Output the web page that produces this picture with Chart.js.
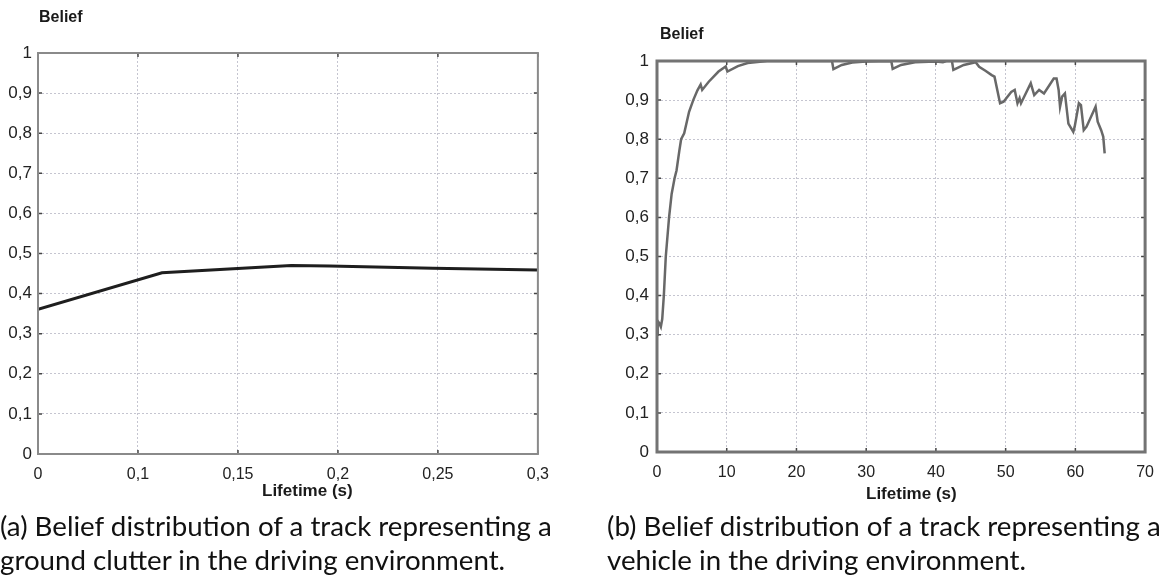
<!DOCTYPE html>
<html>
<head>
<meta charset="utf-8">
<script src="https://cdn.jsdelivr.net/npm/chart.js@4.4.1/dist/chart.umd.min.js"></script>
<style>
  html, body { margin: 0; padding: 0; background: #fff; width: 1165px; height: 584px; overflow: hidden; }
  body { position: relative; }
  canvas { position: absolute; top: 0; }
  #chartA { left: 0; }
  #chartB { left: 600px; }
  .axisTitle { position: absolute; font: bold 16px "Liberation Sans", Arial, sans-serif; color: #1a1a1a; white-space: nowrap; line-height: 18px; }
  .xTitle { font-size: 17px; }
  .cap { position: absolute; top: 509px; font: 27.7px Lato, sans-serif; line-height: 34px; color: #111; white-space: nowrap; }
</style>
</head>
<body>
<canvas id="chartA" width="560" height="510"></canvas>
<canvas id="chartB" width="565" height="510"></canvas>

<div class="axisTitle" style="left:39px; top:8px;">Belief</div>
<div class="axisTitle" style="left:660px; top:25px;">Belief</div>
<div class="axisTitle xTitle" style="left:262px; top:482px;">Lifetime (s)</div>
<div class="axisTitle xTitle" style="left:866px; top:485px;">Lifetime (s)</div>

<div class="cap" style="left:0;">(a) Belief distribution of a track representing a<br>ground clutter in the driving environment.</div>
<div class="cap" style="left:607px;">(b) Belief distribution of a track representing a<br>vehicle in the driving environment.</div>

<script>
// (a) ground clutter track: lifetime (s) and belief
const timeA   = [0, 0.0744, 0.152, 0.175, 0.237, 0.3];
const beliefA = [0.361, 0.452, 0.470, 0.469, 0.463, 0.459];
const xTickLabelsA = ['0', '0,1', '0,15', '0,2', '0,25', '0,3'];

// (b) vehicle track: lifetime (s) and belief
const timeB = [
  0, 0.1, 0.3, 0.55, 0.75, 0.98, 1.26, 1.73, 2.1, 2.52, 2.8, 3.2, 3.46, 3.9,
  4.6, 5.2, 5.8, 6.26, 6.48, 7.42, 8.82, 9.85, 10.1, 11.6, 13, 15.8, 20, 25.1,
  25.3, 26.5, 28, 30, 33.6, 33.8, 35, 37, 40, 41, 41.5, 42.3, 42.5, 44, 45.7,
  46.2, 47.1, 48.0, 48.4, 49.2, 49.7, 50.8, 51.3, 51.7, 52.0, 52.2, 53.6, 54.1,
  54.8, 55.5, 56.9, 57.3, 57.6, 57.8, 58.1, 58.5, 59.0, 59.7, 59.9, 60.5, 60.8,
  61.2, 61.6, 62.9, 63.2, 63.7, 64.0, 64.2
];
const beliefB = [
  0.30, 0.335, 0.33, 0.32, 0.34, 0.40, 0.50, 0.60, 0.66, 0.70, 0.72, 0.77, 0.80, 0.815,
  0.87, 0.90, 0.925, 0.94, 0.926, 0.947, 0.973, 0.986, 0.973, 0.987, 0.995, 1.0, 1.0, 1.0,
  0.979, 0.99, 0.996, 0.999, 1.0, 0.98, 0.99, 0.997, 0.999, 0.997, 1.0, 1.0, 0.977, 0.99, 0.997,
  0.985, 0.975, 0.964, 0.96, 0.892, 0.896, 0.921, 0.926, 0.892, 0.905, 0.892, 0.943, 0.913,
  0.926, 0.917, 0.955, 0.955, 0.926, 0.883, 0.909, 0.917, 0.840, 0.819, 0.832, 0.892, 0.887,
  0.823, 0.832, 0.883, 0.845, 0.823, 0.806, 0.764
];
const xTickLabelsB = ['0', '10', '20', '30', '40', '50', '60', '70'];

const yTickLabels = ['0', '0,1', '0,2', '0,3', '0,4', '0,5', '0,6', '0,7', '0,8', '0,9', '1'];

const toPoints = (xs, ys) => xs.map((x, i) => ({ x, y: ys[i] }));

// box around the plot area with short inward tick marks at every tick
const framePlugin = {
  id: 'frame',
  afterDatasetsDraw(chart, args, opts) {
    const { ctx, chartArea: a, scales } = chart;
    ctx.save();
    ctx.strokeStyle = opts.tickColor;
    ctx.lineWidth = 1.5;
    const len = 4;
    scales.x.ticks.forEach(t => {
      const px = scales.x.getPixelForValue(t.value);
      ctx.beginPath();
      ctx.moveTo(px, a.bottom); ctx.lineTo(px, a.bottom - len);
      ctx.moveTo(px, a.top); ctx.lineTo(px, a.top + len);
      ctx.stroke();
    });
    scales.y.ticks.forEach(t => {
      const py = scales.y.getPixelForValue(t.value);
      ctx.beginPath();
      ctx.moveTo(a.left, py); ctx.lineTo(a.left + len, py);
      ctx.moveTo(a.right, py); ctx.lineTo(a.right - len, py);
      ctx.stroke();
    });
    ctx.strokeStyle = opts.color;
    ctx.lineWidth = opts.width;
    ctx.strokeRect(a.left, a.top, a.right - a.left, a.bottom - a.top);
    ctx.restore();
  }
};

function makeChart(id, cfg) {
  return new Chart(document.getElementById(id), {
    type: 'line',
    data: {
      datasets: [{
        data: cfg.points,
        borderColor: cfg.lineColor,
        borderWidth: cfg.lineWidth,
        pointRadius: 0,
        tension: 0,
        fill: false
      }]
    },
    options: {
      responsive: false,
      animation: false,
      layout: { padding: { top: cfg.top, right: cfg.right, left: 0, bottom: 0 } },
      plugins: {
        legend: { display: false },
        tooltip: { enabled: false },
        frame: { color: cfg.frameColor, width: cfg.frameWidth, tickColor: '#444' }
      },
      scales: {
        x: {
          type: 'linear',
          min: cfg.xMin, max: cfg.xMax,
          afterBuildTicks: s => { s.ticks = cfg.xTicks.map(v => ({ value: v })); },
          afterFit: s => { s.height = cfg.xAxisHeight; },
          grid: { color: '#c5c5d0', lineWidth: 1, drawTicks: false },
          border: { display: false, dash: [2, 2] },
          ticks: {
            padding: 11,
            color: '#222',
            font: { family: 'Liberation Sans, Arial, sans-serif', size: 16 },
            maxRotation: 0,
            callback: (v, i) => cfg.xLabels[i]
          }
        },
        y: {
          type: 'linear',
          min: 0, max: 1,
          afterBuildTicks: s => { s.ticks = yTickLabels.map((_, i) => ({ value: i / 10 })); },
          afterFit: s => { s.width = cfg.yAxisWidth; },
          grid: { color: '#c5c5d0', lineWidth: 1, drawTicks: false },
          border: { display: false, dash: [2, 2] },
          ticks: {
            padding: cfg.yPad,
            color: '#222',
            font: { family: 'Liberation Sans, Arial, sans-serif', size: 17 },
            callback: (v, i) => yTickLabels[i]
          }
        }
      }
    },
    plugins: [framePlugin]
  });
}

makeChart('chartA', {
  points: toPoints(timeA, beliefA),
  lineColor: '#1e1e1e', lineWidth: 3,
  frameColor: '#8a8a8a', frameWidth: 2,
  xMin: 0, xMax: 0.3,
  xTicks: [0, 0.06, 0.12, 0.18, 0.24, 0.3],
  xLabels: xTickLabelsA,
  top: 53, right: 22, xAxisHeight: 56, yAxisWidth: 38, yPad: 6
});

makeChart('chartB', {
  points: toPoints(timeB, beliefB),
  lineColor: '#686868', lineWidth: 2.5,
  frameColor: '#737373', frameWidth: 3,
  xMin: 0, xMax: 70,
  xTicks: [0, 10, 20, 30, 40, 50, 60, 70],
  xLabels: xTickLabelsB,
  top: 61, right: 10, xAxisHeight: 58, yAxisWidth: 57, yPad: 8
});
</script>
</body>
</html>
